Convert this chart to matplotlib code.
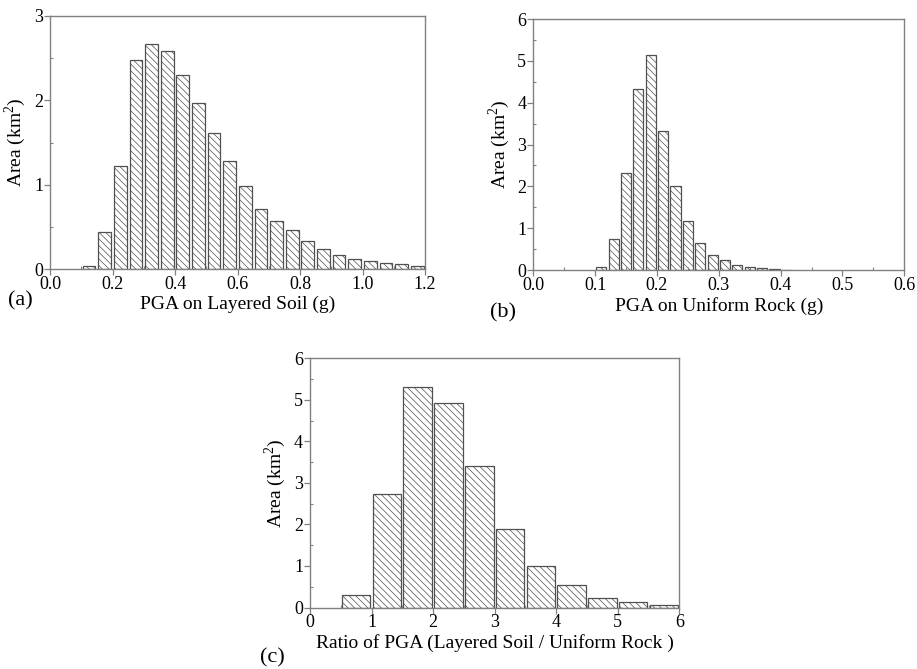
import numpy as np
import matplotlib
matplotlib.use("Agg")
import matplotlib.pyplot as plt
from matplotlib.ticker import MultipleLocator, FormatStrFormatter

plt.rcParams['font.family'] = ['Liberation Serif', 'DejaVu Serif']
plt.rcParams['mathtext.fontset'] = 'custom'
plt.rcParams['mathtext.rm'] = 'Liberation Serif'
plt.rcParams['hatch.linewidth'] = 0.5
plt.rcParams['hatch.color'] = '#5a5a5a'

# (a) PGA on layered soil: bins of 0.05 g starting at 0.10 g
soil_bin_start = 0.10
soil_bin_width = 0.05
soil_area = [0.04, 0.44, 1.22, 2.48, 2.67, 2.58, 2.30, 1.97, 1.61, 1.28, 0.99,
             0.71, 0.57, 0.46, 0.335, 0.24, 0.17, 0.12, 0.095, 0.07, 0.06, 0.043]

# (b) PGA on uniform rock: bins of 0.02 g starting at 0.10 g
rock_bin_start = 0.10
rock_bin_width = 0.02
rock_area = [0.08, 0.73, 2.31, 4.33, 5.13, 3.32, 2.01, 1.17, 0.65, 0.36, 0.24,
             0.13, 0.07, 0.04, 0.02, 0.01]

# (c) amplification ratio: bins of 0.5 starting at 0.5
ratio_bin_start = 0.5
ratio_bin_width = 0.5
ratio_area = [0.30, 2.73, 5.30, 4.92, 3.40, 1.89, 1.00, 0.53, 0.24, 0.14, 0.07]

W, H = 917, 669
fig = plt.figure(figsize=(W / 100, H / 100), dpi=100)


def add_axes_px(x0, y0, x1, y1):
    return fig.add_axes([x0 / W, 1 - y1 / H, (x1 - x0) / W, (y1 - y0) / H])


SPINE = '#808080'
EDGE = '#505050'


def histogram(ax, start, width, values, frac, xlim, ylim, xmaj, xmin, ymaj, ymin, xfmt, xlabel):
    centers = start + width * (np.arange(len(values)) + 0.5)
    ax.bar(centers, values, width=width * frac, facecolor='white', edgecolor=EDGE,
           linewidth=0.9, hatch='\\\\\\\\\\')
    ax.set_xlim(*xlim)
    ax.set_ylim(*ylim)
    ax.xaxis.set_major_locator(MultipleLocator(xmaj))
    ax.xaxis.set_minor_locator(MultipleLocator(xmin))
    ax.yaxis.set_major_locator(MultipleLocator(ymaj))
    ax.yaxis.set_minor_locator(MultipleLocator(ymin))
    ax.xaxis.set_major_formatter(FormatStrFormatter(xfmt))
    for s in ax.spines.values():
        s.set_color(SPINE)
        s.set_linewidth(1.0)
    ax.tick_params(which='major', direction='out', length=4, width=0.9, color=SPINE,
                   labelsize=13, pad=1)
    ax.tick_params(which='minor', direction='in', length=2.5, width=0.8, color=SPINE)
    ax.set_xlabel(xlabel, fontsize=14, labelpad=2)
    ax.set_ylabel('Area (km$^2$)', fontsize=14, labelpad=4)


ax_a = add_axes_px(50, 15.7, 425, 269.3)
histogram(ax_a, soil_bin_start, soil_bin_width, soil_area, 0.82, (0, 1.2), (0, 3),
          0.2, 0.1, 1, 0.5, '%.1f', 'PGA on Layered Soil (g)')

ax_b = add_axes_px(533.3, 19, 904.3, 270)
histogram(ax_b, rock_bin_start, rock_bin_width, rock_area, 0.82, (0, 0.6), (0, 6),
          0.1, 0.05, 1, 0.5, '%.1f', 'PGA on Uniform Rock (g)')

ax_c = add_axes_px(310, 358.3, 679.3, 607.5)
histogram(ax_c, ratio_bin_start, ratio_bin_width, ratio_area, 0.93, (0, 6), (0, 6),
          1, 0.5, 1, 0.5, '%d', 'Ratio of PGA (Layered Soil / Uniform Rock )')

fig.text(8 / W, 1 - 305 / H, '(a)', fontsize=16, va='baseline')
fig.text(490 / W, 1 - 317 / H, '(b)', fontsize=16, va='baseline')
fig.text(260 / W, 1 - 662 / H, '(c)', fontsize=16, va='baseline')

fig.savefig('out.png', dpi=100)
